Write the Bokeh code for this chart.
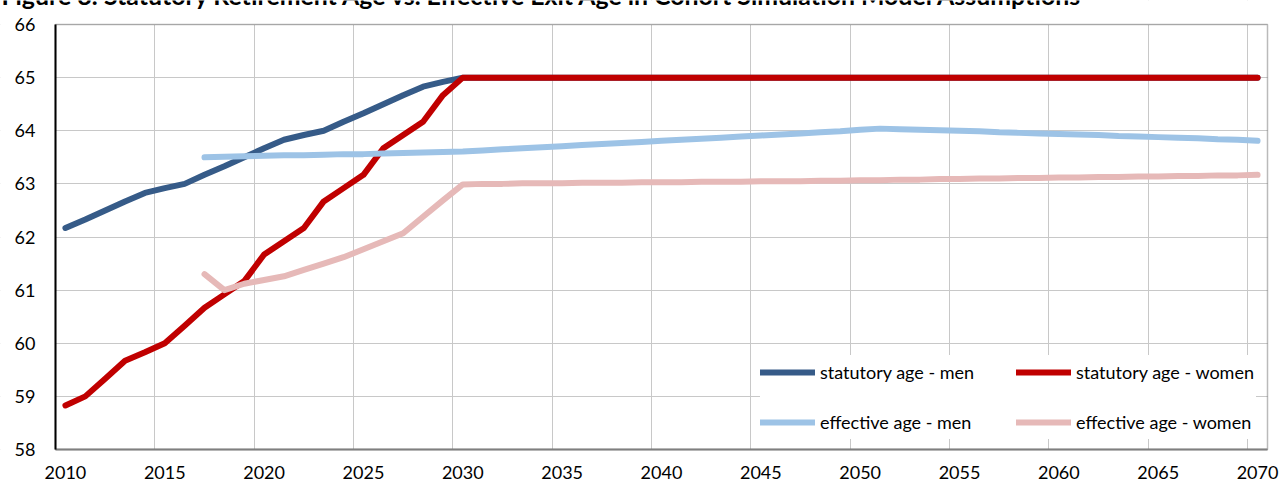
from bokeh.plotting import figure
from bokeh.models import Range1d, FixedTicker, Legend, LegendItem, Label, BoxAnnotation
from bokeh.embed import file_html
from bokeh.resources import INLINE

TITLE = "Figure 8: Statutory Retirement Age vs. Effective Exit Age in Cohort Simulation Model Assumptions"

years_statutory = list(range(2010, 2071))
statutory_men = [62.17, 62.33, 62.50, 62.67, 62.83, 62.92, 63.00, 63.17, 63.33, 63.50,
                 63.67, 63.83, 63.92, 64.00, 64.17, 64.33, 64.50, 64.67, 64.83, 64.92,
                 65.00, 65.00, 65.00, 65.00, 65.00, 65.00, 65.00, 65.00, 65.00, 65.00,
                 65.00, 65.00, 65.00, 65.00, 65.00, 65.00, 65.00, 65.00, 65.00, 65.00,
                 65.00, 65.00, 65.00, 65.00, 65.00, 65.00, 65.00, 65.00, 65.00, 65.00,
                 65.00, 65.00, 65.00, 65.00, 65.00, 65.00, 65.00, 65.00, 65.00, 65.00,
                 65.00]
statutory_women = [58.83, 59.00, 59.33, 59.67, 59.83, 60.00, 60.33, 60.67, 60.92, 61.17,
                   61.67, 61.92, 62.17, 62.67, 62.92, 63.17, 63.67, 63.92, 64.17, 64.67,
                   65.00, 65.00, 65.00, 65.00, 65.00, 65.00, 65.00, 65.00, 65.00, 65.00,
                   65.00, 65.00, 65.00, 65.00, 65.00, 65.00, 65.00, 65.00, 65.00, 65.00,
                   65.00, 65.00, 65.00, 65.00, 65.00, 65.00, 65.00, 65.00, 65.00, 65.00,
                   65.00, 65.00, 65.00, 65.00, 65.00, 65.00, 65.00, 65.00, 65.00, 65.00,
                   65.00]

years_effective = list(range(2017, 2071))
effective_men = [63.50, 63.51, 63.52, 63.53, 63.54, 63.54, 63.55, 63.56, 63.56, 63.57,
                 63.58, 63.59, 63.60, 63.61, 63.63, 63.65, 63.67, 63.69, 63.71, 63.73,
                 63.75, 63.77, 63.79, 63.81, 63.83, 63.85, 63.87, 63.89, 63.91, 63.93,
                 63.95, 63.97, 63.99, 64.02, 64.04, 64.03, 64.02, 64.01, 64.00, 63.99,
                 63.97, 63.96, 63.95, 63.94, 63.93, 63.92, 63.90, 63.89, 63.88, 63.87,
                 63.86, 63.84, 63.83, 63.81]
effective_women = [61.30, 61.00, 61.12, 61.19, 61.26, 61.38, 61.50, 61.62, 61.77, 61.92,
                   62.07, 62.38, 62.69, 62.99, 63.00, 63.00, 63.01, 63.01, 63.01, 63.02,
                   63.02, 63.02, 63.03, 63.03, 63.03, 63.04, 63.04, 63.04, 63.05, 63.05,
                   63.05, 63.06, 63.06, 63.07, 63.07, 63.08, 63.08, 63.09, 63.09, 63.10,
                   63.10, 63.11, 63.11, 63.12, 63.12, 63.13, 63.13, 63.14, 63.14, 63.15,
                   63.15, 63.16, 63.16, 63.17]

x_tick_years = [2010, 2015, 2020, 2025, 2030, 2035, 2040, 2045, 2050, 2055, 2060, 2065, 2070]
y_ticks = [58, 59, 60, 61, 62, 63, 64, 65, 66]
series_labels = ["statutory age - men", "statutory age - women",
                 "effective age - men", "effective age - women"]
series_colors = ["#365B88", "#C00000", "#9DC3E6", "#E6B9B8"]

FONT = "Lato"
FS = "18px"
X_MIN, X_MAX = 2009.5, 2070.5
Y_MIN, Y_MAX = 58, 66

# layout (pixels): plot area from x=55 to 1267, y=24 to 449 on a 1279x485 canvas
W, H = 1279, 485
AREA_LEFT, AREA_RIGHT, AREA_TOP, AREA_BOTTOM = 55, 1267, 24, 449
PX_X = (AREA_RIGHT - AREA_LEFT) / (X_MAX - X_MIN)
PX_Y = (AREA_BOTTOM - AREA_TOP) / (Y_MAX - Y_MIN)
# the frame covers the whole canvas so that the title (cut by the top edge as in
# the source) and all axis labels show; the area outside the plot box is masked
FR_X0 = X_MIN - AREA_LEFT / PX_X
FR_X1 = X_MAX + (W - AREA_RIGHT) / PX_X
FR_Y0 = Y_MIN - (H - AREA_BOTTOM) / PX_Y
FR_Y1 = Y_MAX + AREA_TOP / PX_Y

p = figure(width=W, height=H, output_backend="svg", toolbar_location=None,
           x_range=Range1d(FR_X0, FR_X1), y_range=Range1d(FR_Y0, FR_Y1),
           min_border_left=0, min_border_right=0, min_border_top=0,
           min_border_bottom=0)
p.background_fill_color = "white"
p.border_fill_color = "white"
p.outline_line_color = None

p.xgrid.ticker = FixedTicker(ticks=[yr - 0.5 for yr in x_tick_years[1:]])
p.ygrid.ticker = FixedTicker(ticks=y_ticks)
for g in (p.xgrid, p.ygrid):
    g.grid_line_color = "#c8c8c8"
    g.grid_line_width = 1

# white masks outside the plot area
mask = dict(fill_color="white", fill_alpha=1.0, line_color=None, level="underlay")
p.add_layout(BoxAnnotation(bottom=Y_MAX, **mask))
p.add_layout(BoxAnnotation(top=Y_MIN, **mask))
p.add_layout(BoxAnnotation(right=X_MIN, **mask))
p.add_layout(BoxAnnotation(left=X_MAX, **mask))
# plot-area border (top and right edges show; left/bottom are covered by the axes)
p.add_layout(BoxAnnotation(left=X_MIN, right=X_MAX, bottom=Y_MIN, top=Y_MAX,
                           fill_alpha=0, line_color="#1a1a1a", line_width=1.5,
                           level="underlay"))

p.xaxis.ticker = FixedTicker(ticks=x_tick_years)
p.yaxis.ticker = FixedTicker(ticks=y_ticks)
p.yaxis.fixed_location = X_MIN
p.xaxis.fixed_location = Y_MIN
p.xaxis.bounds = (X_MIN, X_MAX)
p.yaxis.bounds = (Y_MIN, Y_MAX)
for ax in (p.xaxis, p.yaxis):
    ax.major_tick_out = 0
    ax.major_tick_in = 0
    ax.minor_tick_out = 0
    ax.minor_tick_in = 0
    ax.major_label_text_font = FONT
    ax.major_label_text_font_size = FS
    ax.major_label_text_color = "#000000"
p.xaxis.axis_line_color = "#7f7f7f"
p.xaxis.axis_line_width = 2
p.yaxis.axis_line_color = "#000000"
p.yaxis.axis_line_width = 2
p.xaxis.major_label_standoff = 16
p.yaxis.major_label_standoff = 20

series = [
    (years_statutory, statutory_men),
    (years_statutory, statutory_women),
    (years_effective, effective_men),
    (years_effective, effective_women),
]
renderers = []
for (xs, ys), col in zip(series, series_colors):
    r = p.line(xs, ys, line_width=6, line_color=col, line_cap="round", line_join="round")
    renderers.append(r)

items = [LegendItem(label=lab, renderers=[r]) for lab, r in zip(series_labels, renderers)]
legend = Legend(items=items, location=(AREA_LEFT + 705, (H - AREA_BOTTOM) + 10),
                orientation="horizontal", ncols=2, margin=0, padding=9, spacing=16,
                glyph_width=55, glyph_height=34, label_standoff=5, label_width=180,
                label_text_font=FONT, label_text_font_size=FS,
                label_text_color="#000000", border_line_color=None,
                background_fill_color="white", background_fill_alpha=1.0)
p.add_layout(legend, "center")

title = Label(x=FR_X0 + 1 / PX_X, y=Y_MAX + 30 / PX_Y, text=TITLE, text_font=FONT,
              text_font_size="24.85px", text_font_style="bold", text_color="#000000",
              text_baseline="alphabetic", text_align="left")
p.add_layout(title)

open("out.html", "w").write(file_html(p, INLINE))
